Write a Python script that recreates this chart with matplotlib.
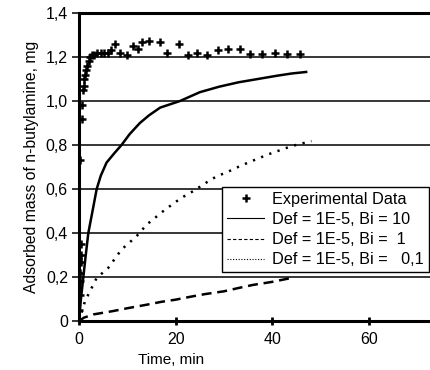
import matplotlib
matplotlib.use("Agg")
import matplotlib.pyplot as plt
from matplotlib.lines import Line2D
from matplotlib.ticker import FuncFormatter

plt.rcParams['font.family'] = ['Liberation Sans', 'DejaVu Sans']

# Experimental data
exp_t = [0, 0.1, 0.2, 0.3, 0.3, 0.4, 0.4, 0.5, 0.2, 0.55, 0.6, 0.9, 1.0, 1.1, 1.3, 1.5,
         1.7, 2.0, 2.3, 2.7, 3.2, 3.8, 4.5, 5.2, 6.0, 6.6, 7.45, 8.5, 9.9, 11.2, 12.3,
         13.0, 14.5, 16.8, 18.3, 20.7, 22.6, 24.5, 26.5, 28.8, 30.8, 33.3, 35.4, 37.8,
         40.6, 43.0, 45.7]
exp_m = [0, 0.05, 0.12, 0.18, 0.22, 0.27, 0.30, 0.35, 0.73, 0.92, 0.98, 1.05, 1.07, 1.10,
         1.12, 1.14, 1.16, 1.18, 1.20, 1.21, 1.21, 1.22, 1.22, 1.22, 1.22, 1.23, 1.26, 1.22,
         1.21, 1.25, 1.235, 1.27, 1.274, 1.27, 1.22, 1.26, 1.21, 1.22, 1.21, 1.23, 1.236,
         1.236, 1.213, 1.213, 1.22, 1.213, 1.213]

# Model Bi = 10 (solid)
bi10_t = [0, 0.4, 0.9, 1.4, 1.93, 2.8, 3.66, 4.5, 5.7, 7.4, 8.8, 10.5, 12.6, 14.5, 16.8,
          20.9, 25, 29, 33, 37, 41, 44, 47]
bi10_m = [0, 0.10, 0.20, 0.30, 0.40, 0.50, 0.60, 0.66, 0.72, 0.765, 0.80, 0.85, 0.90, 0.935,
          0.97, 1.00, 1.04, 1.065, 1.085, 1.10, 1.115, 1.125, 1.132]

# Model Bi = 1 (dashed)
bi1_t = [0, 1, 3, 7, 10, 14, 17, 20, 23, 26, 30, 33, 36, 40, 44]
bi1_m = [0, 0.015, 0.03, 0.045, 0.058, 0.074, 0.087, 0.097, 0.11, 0.122, 0.135, 0.15,
         0.164, 0.178, 0.196]

# Model Bi = 0.1 (dotted)
bi01_t = [0, 1.24, 3.66, 6, 8.8, 11.9, 14, 17.8, 21.2, 23.6, 26.4, 28.5, 30.6, 32.6, 35,
          39.1, 44, 48.1]
bi01_m = [0, 0.09, 0.196, 0.24, 0.325, 0.385, 0.438, 0.506, 0.56, 0.59, 0.63, 0.658, 0.676,
          0.697, 0.72, 0.757, 0.795, 0.818]

labels = ['Experimental Data', 'Def = 1E-5, Bi = 10', 'Def = 1E-5, Bi =  1',
          'Def = 1E-5, Bi =   0,1']
xticks = [0, 20, 40, 60]
yticks = [0, 0.2, 0.4, 0.6, 0.8, 1.0, 1.2, 1.4]

W, H = 430, 370
fig = plt.figure(figsize=(W / 100, H / 100), dpi=100)
x0, x1 = 79, 79 + 80 * 4.833
y0, y1 = 321, 13
ax = fig.add_axes([x0 / W, (H - y0) / H, (x1 - x0) / W, (y0 - y1) / H])

for y in yticks[1:-1]:
    ax.axhline(y, color='black', lw=1.1, zorder=1)

ax.plot(bi10_t, bi10_m, color='black', lw=1.8, zorder=3)
ax.plot(bi1_t, bi1_m, color='black', lw=1.8, dashes=(4, 2.3), zorder=3)
ax.plot(bi01_t, bi01_m, color='black', lw=1.8, dashes=(0.9, 2.6), zorder=3)
ax.plot(exp_t, exp_m, linestyle='none', marker='+', color='black', markersize=6,
        markeredgewidth=1.8, zorder=4)

ax.set_xlim(0, 80)
ax.set_ylim(0, 1.4)
ax.set_xticks(xticks)
ax.set_yticks(yticks)
ax.yaxis.set_major_formatter(FuncFormatter(lambda v, p: '0' if abs(v) < 1e-9 else f'{v:.1f}'.replace('.', ',')))
ax.xaxis.set_major_formatter(FuncFormatter(lambda v, p: f'{v:g}'))

for s in ['left', 'bottom', 'top']:
    ax.spines[s].set_linewidth(2.2)
ax.spines['right'].set_visible(False)
ax.tick_params(axis='y', direction='out', length=5, width=1.1, labelsize=11.5, pad=3)
ax.tick_params(axis='x', direction='inout', length=6, width=2, labelsize=11.5, pad=5)

ax.set_ylabel('Adsorbed mass of n-butylamine, mg', fontsize=11.3, labelpad=5)
ax.set_xlabel('Time, min', fontsize=11, labelpad=4)
ax.xaxis.label.set_position(((171 - x0) / (x1 - x0), 0))

handles = [
    Line2D([], [], linestyle='none', marker='+', color='black', markersize=6, markeredgewidth=1.8),
    Line2D([], [], color='black', lw=0.8),
    Line2D([], [], color='black', lw=0.8, dashes=(3, 2)),
    Line2D([], [], color='black', lw=0.8, dashes=(1, 1.5)),
]
leg = ax.legend(handles, labels, loc='upper left',
                bbox_to_anchor=(222 / W, (H - 187) / H), bbox_transform=fig.transFigure,
                fontsize=11.7, frameon=True, fancybox=False, framealpha=1, edgecolor='black',
                borderaxespad=0, borderpad=0.3, labelspacing=0.32, handlelength=2.3,
                handletextpad=0.5)
leg.get_frame().set_linewidth(1.0)
leg.set_zorder(10)

fig.savefig('out.png', dpi=100)
